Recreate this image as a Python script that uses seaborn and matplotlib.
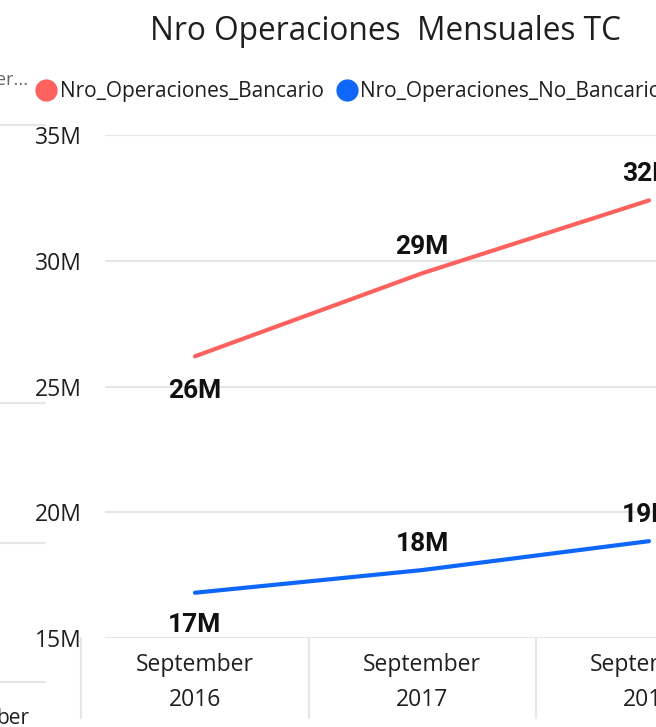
import numpy as np
import pandas as pd
import matplotlib
matplotlib.use("Agg")
import matplotlib.pyplot as plt
from matplotlib.lines import Line2D
import seaborn as sns

# values (millions)
periodos = ["September\n2016", "September\n2017", "September\n2018"]
bancario = [26.2, 29.5, 32.4]
no_bancario = [16.8, 17.7, 18.85]
etiq_bancario = ["26M", "29M", "32M"]
etiq_no_bancario = ["17M", "18M", "19M"]
series = ["Nro_Operaciones_Bancario", "Nro_Operaciones_No_Bancario"]
colores = ["#FD625E", "#0F66FA"]

df = pd.DataFrame({
    "pos": list(range(3)) * 2,
    "valor": bancario + no_bancario,
    "serie": [series[0]] * 3 + [series[1]] * 3,
})

sns.set_style("white")
plt.rcParams["font.family"] = ["Open Sans", "DejaVu Sans"]

W, H = 656, 727
fig = plt.figure(figsize=(W / 100, H / 100), dpi=100)

# axes goes past the right edge, as in the cropped screenshot
px_unit = 227.0
x0 = 195.0
left_px, right_px = 105, 761
ax = fig.add_axes([left_px / W, (H - 638) / H, (right_px - left_px) / W, (638 - 135) / H])
ax.set_xlim((left_px - x0) / px_unit, (right_px - x0) / px_unit)
ax.set_ylim(15, 35)

sns.lineplot(data=df, x="pos", y="valor", hue="serie", palette=colores,
             linewidth=3, ax=ax, legend=False, clip_on=False)

for s in ax.spines.values():
    s.set_visible(False)
ax.set_yticks([15, 20, 25, 30, 35])
ax.set_yticklabels([f"{v}M" for v in [15, 20, 25, 30, 35]], fontsize=16.5, color="#1f1f1f")
ax.grid(axis="y", color="#e6e6e6", linewidth=1.5)
ax.grid(axis="x", visible=False)
ax.set_xticks(range(3))
ax.set_xticklabels(periodos, fontsize=16.5, color="#1f1f1f", linespacing=1.6)
ax.tick_params(axis="y", length=0, pad=17)
ax.tick_params(axis="x", length=0, pad=11)
ax.set_xlabel("")
ax.set_ylabel("")

# category separators under the axis
for xs in [-0.5, 0.5, 1.5, 2.5]:
    ax.plot([xs, xs], [15, 11.8], color="#e6e6e6", linewidth=1.5, clip_on=False)

# data labels
for i in range(3):
    off_b = -25 if i == 0 else 19
    ax.annotate(etiq_bancario[i], (i, bancario[i]), xytext=(0, off_b), textcoords="offset points",
                ha="center", va="center", fontsize=19, fontweight="bold", family="Roboto",
                color="#111111", annotation_clip=False)
    off_n = -23 if i == 0 else 19
    ax.annotate(etiq_no_bancario[i], (i, no_bancario[i]), xytext=(0, off_n), textcoords="offset points",
                ha="center", va="center", fontsize=19, fontweight="bold", family="Roboto",
                color="#111111", annotation_clip=False)

# title
fig.text(386 / W, 1 - 32 / H, "Nro Operaciones  Mensuales TC", ha="center", va="center",
         fontsize=22.8, color="#1f1f1f")

# legend
handles = [Line2D([], [], marker="o", linestyle="", markersize=15, color=c) for c in colores]
fig.legend(handles, series, loc="center left", bbox_to_anchor=(14 / W, 1 - 92 / H), ncol=2,
           frameon=False, fontsize=15, handletextpad=0.0, columnspacing=0.45,
           handlelength=1.3, labelcolor="#1f1f1f")

# fragments of the neighbouring visual on the left
for yy in [125, 403, 543, 682]:
    fig.add_artist(Line2D([0, 45 / W], [1 - yy / H, 1 - yy / H], color="#e6e6e6", linewidth=1.5))
fig.text(-4 / W, 1 - 80 / H, "er...", ha="left", va="center", fontsize=13, color="#666666")
fig.text(-4 / W, 1 - 718 / H, "ber", ha="left", va="center", fontsize=15, color="#1f1f1f")

fig.savefig("out.png", dpi=100)
